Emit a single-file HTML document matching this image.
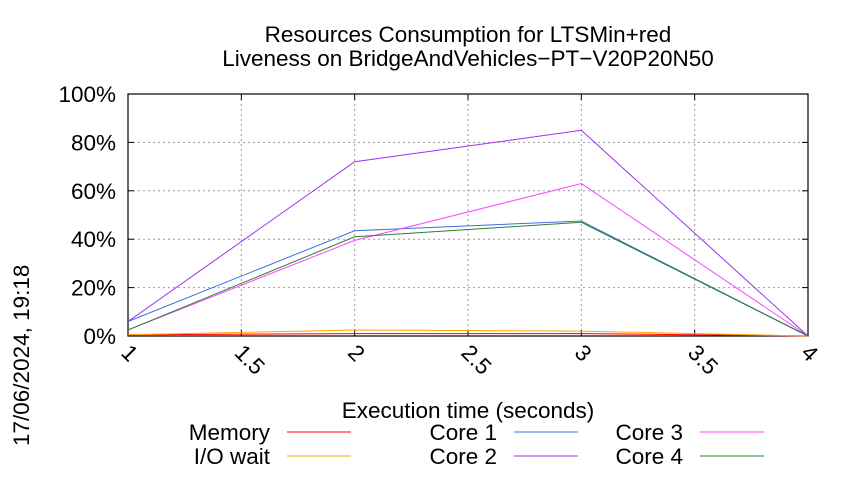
<!DOCTYPE html>
<html><head><meta charset="utf-8"><style>body{margin:0;background:#fff}svg{font-family:"Liberation Sans",sans-serif}</style></head>
<body>
<svg id="c" width="850" height="475" xmlns="http://www.w3.org/2000/svg">
<rect width="850" height="475" fill="#fff"/>
<text x="468" y="42" font-size="22.5" text-anchor="middle">Resources Consumption for LTSMin+red</text>
<text x="468" y="66" font-size="22.5" text-anchor="middle">Liveness on BridgeAndVehicles−PT−V20P20N50</text>
<text x="468" y="418" font-size="22.5" text-anchor="middle">Execution time (seconds)</text>
<text transform="translate(29,446) rotate(-90)" font-size="22.5">17/06/2024, 19:18</text>
<g id="grid"></g><g id="series"></g><g id="legend"></g>
</svg>
<script>
const xs=[1,2,3,4];
const xTicks=[1,1.5,2,2.5,3,3.5,4];
const yTicks=[0,20,40,60,80,100];
const memory=[0.5,1,1,0];
const ioWait=[0.5,2.5,2,0];
const core1=[6,43.5,47.5,0];
const core2=[6,72,85,0];
const core3=[2.5,39.5,63,0];
const core4=[2.5,41,47,0];
const names=["Memory","I/O wait","Core 1","Core 2","Core 3","Core 4"];
const NS="http://www.w3.org/2000/svg";
const X0=128,X1=808,Y0=336,Y1=94;
const sx=v=>X0+(v-1)/3*(X1-X0), sy=v=>Y0-v/100*(Y0-Y1);
function mk(t,a,p){const e=document.createElementNS(NS,t);for(const k in a)e.setAttribute(k,a[k]);p.appendChild(e);return e;}
const g=document.getElementById('grid');
yTicks.forEach(v=>{const y=sy(v);
 if(v>0&&v<100){const l=mk('line',{x1:X0,x2:X1,y1:y,y2:y,stroke:'#999','stroke-dasharray':'2,3','stroke-width':1},g);}
 const t=mk('text',{x:X0-12,y:y+8,'font-size':22.5,'text-anchor':'end'},g);t.textContent=v+'%';
 
 
 mk('line',{x1:X0,x2:X0+6,y1:y,y2:y,stroke:'#000'},g);mk('line',{x1:X1,x2:X1-6,y1:y,y2:y,stroke:'#000'},g);
});
xTicks.forEach(v=>{const x=sx(v);
 if(v>1&&v<4){const l=mk('line',{x1:x,x2:x,y1:Y1,y2:Y0,stroke:'#999','stroke-dasharray':'2,3'},g);}
 mk('line',{x1:x,x2:x,y1:Y0,y2:Y0-6,stroke:'#000'},g);mk('line',{x1:x,x2:x,y1:Y1,y2:Y1+6,stroke:'#000'},g);
 const t=mk('text',{transform:`translate(${x-8},${Y0+18}) rotate(45)`,'font-size':22.5},g);t.textContent=String(v);
 
 
});
const fr=mk('rect',{x:X0,y:Y1,width:X1-X0,height:Y0-Y1,fill:'none',stroke:'#000','stroke-width':1.2},g);


const S=document.getElementById('series');
const data=[memory,ioWait,core1,core2,core3,core4];
const colors=['#ff0000','#ffa500','#3f6fdf','#9a30f0','#ff44ff','#2e7d32'];
const ids=['memory','io-wait','core-1','core-2','core-3','core-4'];
data.forEach((d,i)=>{const p=mk('polyline',{points:d.map((v,j)=>sx(xs[j])+','+sy(v)).join(' '),fill:'none',stroke:colors[i],'stroke-width':1},S);
 
 
});
const L=document.getElementById('legend');
const lp=[[270,432],[270,456],[497,432],[497,456],[683,432],[683,456]];
names.forEach((n,i)=>{const [x,y]=lp[i];
 const t=mk('text',{x:x,y:y+8,'font-size':22.5,'text-anchor':'end'},L);t.textContent=n;
 
 
 const l=mk('line',{x1:x+17,x2:x+81,y1:y,y2:y,stroke:colors[i]},L);
 
 
});
</script>
</body></html>
